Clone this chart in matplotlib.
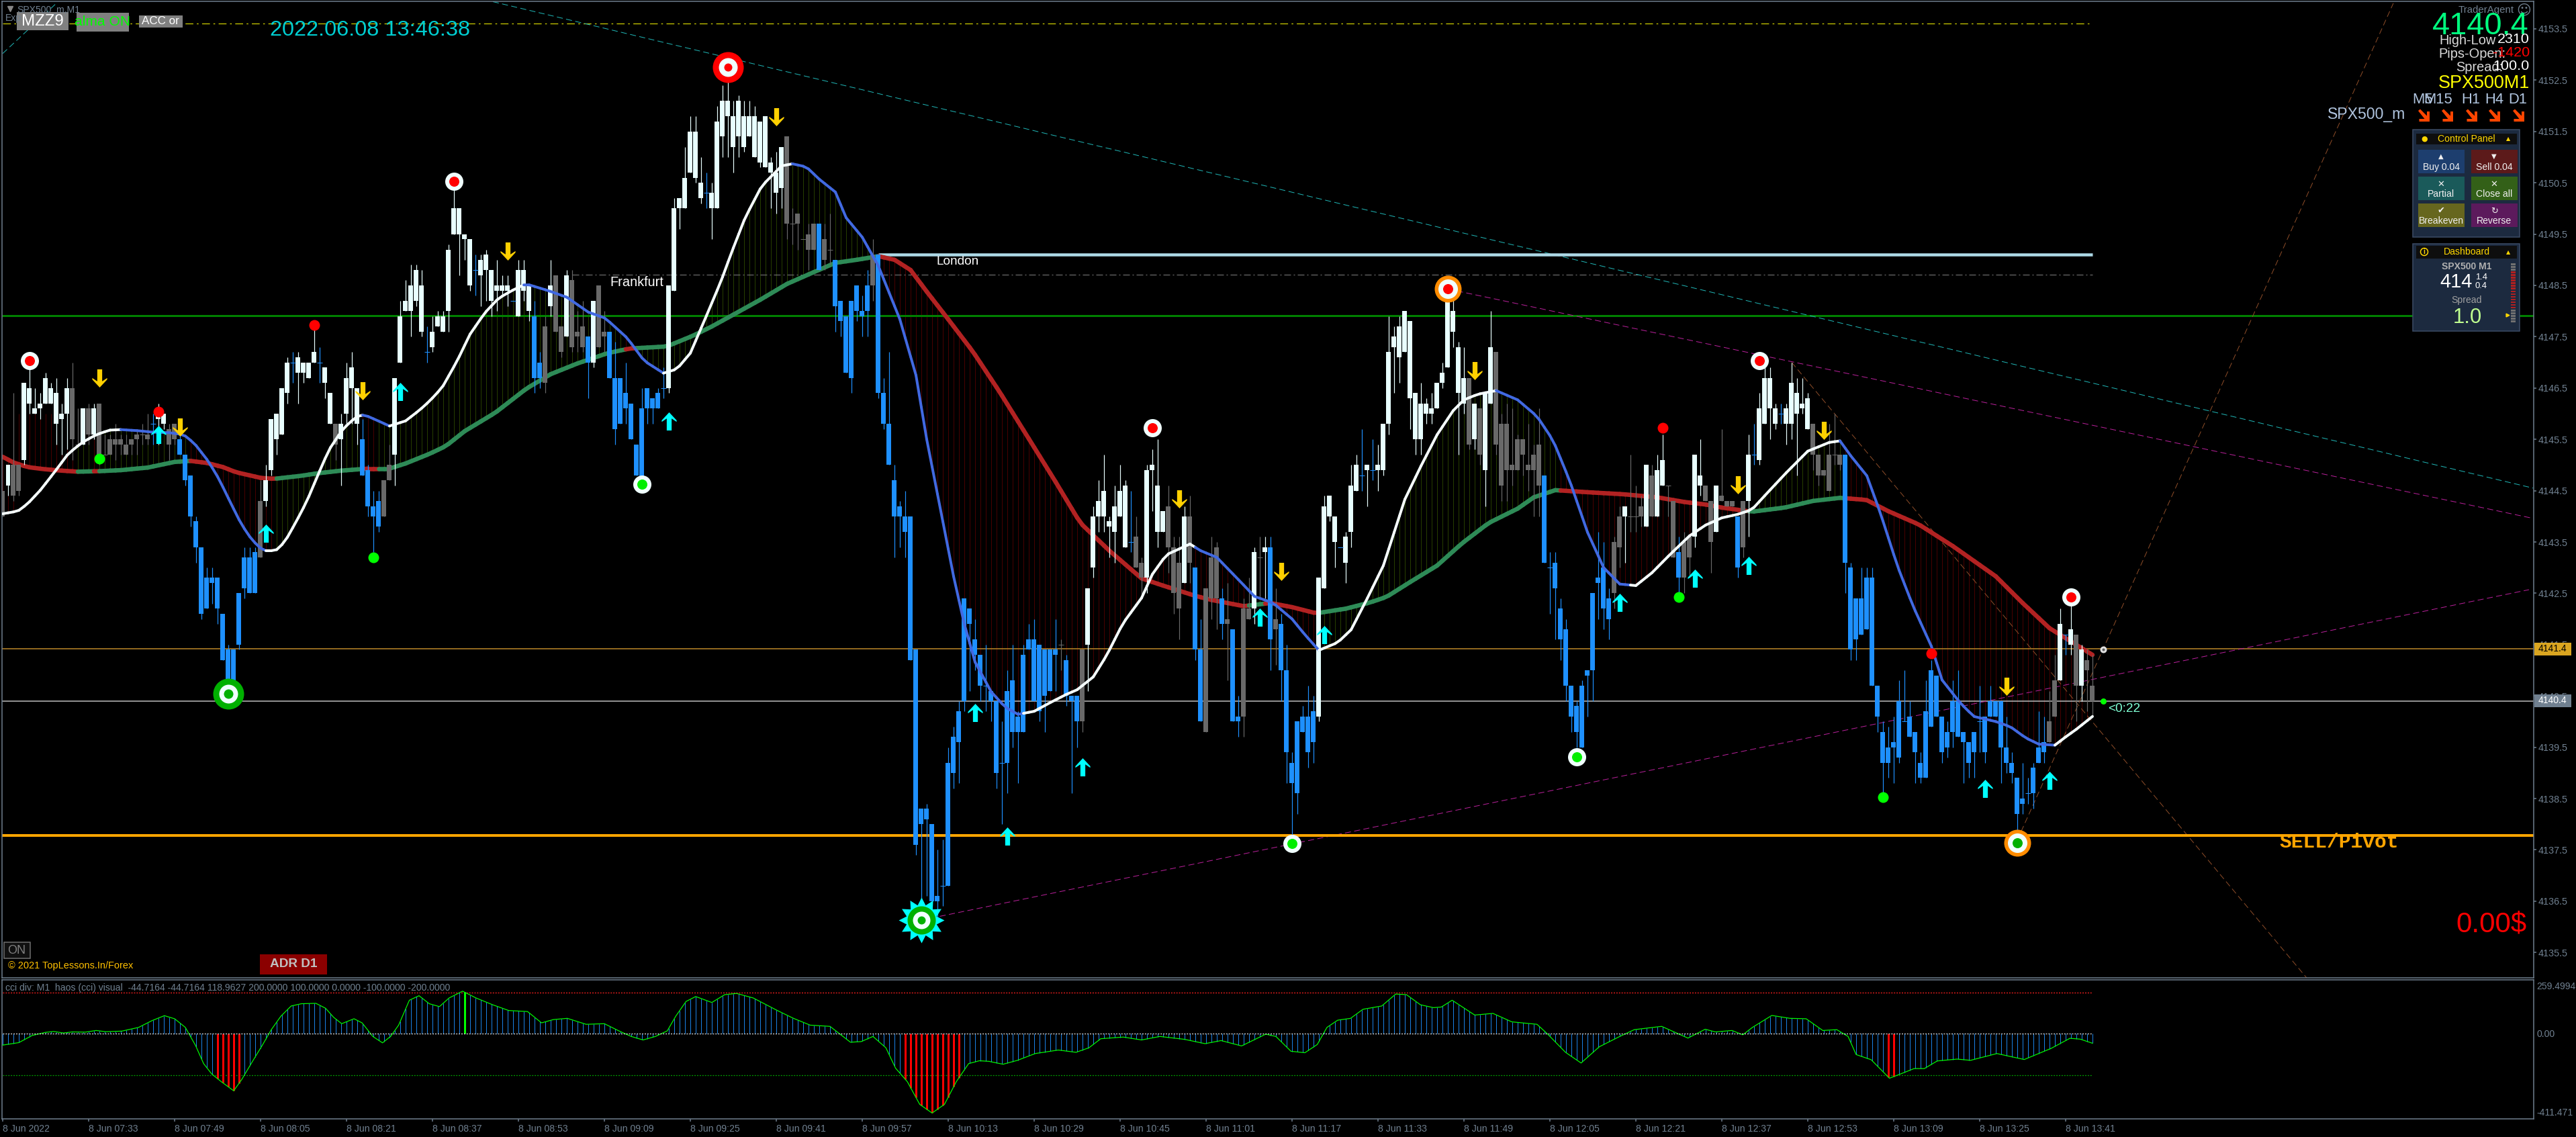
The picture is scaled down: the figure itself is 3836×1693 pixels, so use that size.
import numpy as np
import matplotlib
matplotlib.use("Agg")
import matplotlib.pyplot as plt
from matplotlib.collections import LineCollection
from matplotlib.patches import Rectangle, Circle
from matplotlib.path import Path

plt.rcParams['font.family'] = ['Liberation Sans', 'DejaVu Sans']

base = 4100

# candle bodies and wicks, prices minus base, one value per M1 bar from 07:17
body_top = [
    44.5,45.0,45.0,45.0,46.6,46.5,46.1,46.2,46.7,46.5,
    46.4,46.0,46.5,46.5,45.4,46.1,46.1,46.1,46.2,45.2,
    45.5,45.5,45.5,45.4,45.5,45.6,45.6,45.6,45.8,46.0,
    46.0,45.7,45.8,45.5,45.2,44.8,43.9,43.4,42.8,42.8,
    42.8,42.1,41.4,41.4,42.5,43.2,43.2,43.3,44.3,44.7,
    45.9,46.0,46.5,47.0,47.0,47.1,47.0,47.0,47.2,47.0,
    46.9,46.4,45.8,45.8,46.7,46.9,46.5,45.5,44.9,44.2,
    44.3,44.7,45.0,46.7,47.9,48.2,48.5,48.8,48.5,47.2,
    47.6,47.9,47.9,49.2,50.0,50.0,49.5,49.4,48.8,49.0,
    49.1,48.8,48.5,48.5,48.5,48.2,48.8,48.8,48.5,47.9,
    47.0,47.7,48.5,48.7,47.7,48.7,48.6,47.6,47.7,47.5,
    48.2,48.5,47.6,47.6,46.7,46.7,46.4,46.2,45.4,46.1,
    46.5,46.3,46.4,46.5,48.5,50.0,50.2,50.6,51.5,51.5,
    50.5,50.3,50.3,51.7,52.1,52.1,51.8,52.1,51.8,51.8,
    51.8,51.7,51.8,50.9,50.7,51.2,51.4,49.7,49.9,49.4,
    49.5,49.7,49.7,49.4,49.2,49.0,48.2,47.9,48.2,48.5,
    48.0,48.5,49.1,49.1,46.4,45.8,44.7,44.2,44.0,44.0,
    41.4,38.3,38.3,38.0,36.6,36.8,39.2,39.7,40.2,42.4,
    42.2,41.6,41.3,40.7,40.6,40.4,39.2,40.6,40.8,40.1,
    41.3,41.6,41.6,41.5,41.4,41.4,41.4,41.5,41.2,40.5,
    40.5,41.4,42.6,44.0,44.3,44.5,43.9,44.2,44.5,44.6,
    43.5,43.6,43.1,44.9,45.0,44.6,44.1,44.2,43.4,43.1,
    44.0,44.0,43.0,41.4,42.6,43.2,43.4,42.4,42.0,41.8,
    40.1,42.2,42.2,43.3,43.2,43.4,43.4,42.0,41.9,41.0,
    39.2,40.0,40.1,40.1,40.2,42.8,44.2,44.4,44.0,43.4,
    43.6,44.6,45.0,44.8,45.0,44.9,45.0,45.8,47.2,47.5,
    47.7,48.0,47.8,46.4,46.2,46.2,46.1,46.6,46.8,48.3,
    48.0,47.3,46.7,46.7,46.2,46.1,46.4,47.3,47.2,45.8,
    45.8,45.0,45.5,45.5,45.0,45.2,45.4,44.8,43.0,43.1,
    42.2,41.8,40.7,40.3,40.7,41.0,42.5,42.8,43.0,42.4,
    43.5,44.0,44.2,44.0,44.0,44.2,45.0,44.8,44.9,45.1,
    44.6,44.3,43.3,43.5,43.6,45.2,44.8,44.6,44.3,44.6,
    44.4,44.3,44.3,44.0,44.3,45.2,45.2,46.1,46.7,46.7,
    46.1,46.0,46.1,46.6,46.4,46.2,46.3,45.8,45.2,44.9,
    45.2,45.2,45.2,45.2,43.0,42.4,42.4,42.8,42.8,40.7,
    39.8,39.5,39.6,40.4,40.0,40.1,39.8,39.2,40.2,41.0,
    40.9,40.1,39.8,40.4,40.4,39.8,39.6,39.8,40.0,40.1,
    40.4,40.4,40.4,39.5,39.2,38.9,38.5,38.6,39.1,39.5,
    39.6,40.0,40.8,41.9,41.7,41.8,41.7,41.4,41.2,40.7]

body_bot = [
    44.0,44.6,44.4,44.5,45.1,46.2,46.0,46.1,46.2,46.2,
    45.8,45.9,46.0,45.5,45.4,45.4,45.6,45.6,45.1,45.2,
    45.2,45.4,45.4,45.2,45.4,45.5,45.6,45.5,45.8,45.9,
    45.8,45.4,45.5,45.2,44.7,44.0,43.4,42.1,42.2,42.7,
    42.2,41.2,40.8,40.6,41.5,42.6,42.5,42.5,43.2,44.3,
    44.9,45.5,45.6,46.4,47.0,46.8,46.8,46.7,47.0,47.0,
    46.6,45.8,45.4,45.5,46.0,46.5,45.8,44.8,44.2,44.0,
    43.8,44.0,44.7,45.2,47.0,48.0,48.0,48.2,47.6,47.2,
    47.3,47.7,47.6,48.0,49.5,49.5,49.4,48.5,48.8,48.7,
    48.8,48.2,48.4,48.4,48.4,48.2,47.9,48.4,48.0,46.7,
    46.7,46.6,48.1,47.6,47.2,47.5,47.3,47.5,47.3,47.0,
    47.0,47.3,47.5,46.7,45.7,45.8,46.1,45.5,44.8,44.7,
    46.1,46.1,46.1,46.5,46.5,48.4,50.0,50.0,50.7,50.6,
    50.2,50.3,50.0,50.0,51.4,51.8,51.2,51.4,51.2,51.4,
    51.0,50.9,50.8,50.7,50.3,50.4,49.7,49.7,49.7,49.4,
    49.2,49.2,48.8,49.0,49.2,48.1,47.8,46.8,46.7,48.0,
    47.9,48.0,48.5,46.4,45.8,45.0,44.0,44.0,43.7,41.2,
    37.6,38.0,38.1,36.5,36.5,36.8,36.8,39.0,39.6,40.4,
    41.9,41.3,40.7,40.7,40.4,39.0,39.2,39.2,39.8,39.8,
    39.8,41.4,40.4,40.2,40.5,40.6,41.3,41.5,40.5,40.4,
    40.0,40.0,41.5,43.0,44.0,44.0,43.8,43.7,44.0,43.4,
    43.5,43.0,42.8,42.8,44.9,43.7,43.7,43.4,42.5,42.2,
    42.7,43.1,41.4,40.0,39.8,42.4,42.4,41.9,41.9,40.0,
    40.0,40.1,42.0,42.2,43.2,43.3,41.6,41.8,41.0,39.4,
    38.8,38.6,39.8,39.4,39.6,40.1,42.6,44.0,43.5,43.4,
    43.1,43.7,44.5,44.8,44.9,44.9,44.9,44.9,45.8,47.3,
    47.1,47.2,46.3,45.5,45.5,46.0,46.0,46.1,46.6,46.9,
    47.6,46.4,46.2,45.4,45.5,45.2,44.9,46.2,45.4,44.6,
    44.9,44.9,44.9,45.2,44.9,44.9,44.6,43.1,43.0,42.6,
    41.6,40.7,40.1,39.8,39.5,40.9,41.0,42.7,42.2,42.0,
    42.5,43.4,44.0,44.0,44.0,44.0,43.8,44.0,44.0,44.6,
    44.6,43.2,42.8,42.8,43.2,43.6,44.6,44.3,43.5,43.7,
    44.3,44.2,44.2,43.0,43.4,44.3,45.2,45.1,45.8,46.1,
    45.8,46.0,45.8,45.8,46.0,46.1,45.7,45.2,44.8,44.8,
    44.5,45.2,45.0,43.1,41.4,41.6,41.7,41.8,40.7,40.1,
    39.2,39.2,39.5,39.3,40.0,39.7,39.4,38.9,38.9,39.9,
    40.1,39.4,39.5,39.8,39.7,39.6,39.2,39.4,40.0,39.4,
    40.1,40.1,39.5,39.2,39.0,38.2,38.4,38.6,38.6,39.2,
    39.4,39.6,40.1,40.8,41.7,41.5,40.7,40.7,41.0,40.4]

wick_hi = [
    44.5,45.0,46.4,45.0,46.6,46.9,46.5,46.4,46.8,46.6,
    46.7,46.2,46.7,47.0,46.1,46.1,46.2,46.2,46.2,45.6,
    45.6,45.8,45.6,45.6,45.5,45.7,45.8,46.0,46.0,46.2,
    46.0,45.8,45.8,45.8,45.2,44.8,44.0,43.4,43.0,43.0,
    42.8,42.1,41.5,41.4,42.5,43.4,43.4,43.4,44.7,45.0,
    45.9,46.0,46.5,47.1,47.2,47.2,47.0,47.0,47.7,47.3,
    46.9,46.4,45.8,46.0,47.0,47.2,46.5,45.9,45.0,44.5,
    44.5,44.7,45.4,46.7,48.2,48.6,48.9,48.9,48.8,47.7,
    47.9,48.0,48.0,49.3,50.4,50.0,49.5,49.4,49.1,49.1,
    49.2,48.8,49.0,48.7,48.7,48.2,49.0,49.0,48.5,48.2,
    47.2,47.9,49.0,48.7,47.7,48.8,48.8,48.0,48.2,47.5,
    48.2,48.5,48.0,47.6,47.4,46.7,47.0,46.2,45.4,46.5,
    46.5,46.3,46.5,46.9,48.5,50.2,50.2,51.2,51.8,51.8,
    51.0,50.7,50.5,52.0,52.4,52.9,52.1,52.2,52.1,52.1,
    52.0,51.7,51.8,51.0,51.1,51.2,51.4,50.0,49.9,49.4,
    49.7,49.7,49.7,49.7,49.9,49.0,48.2,47.9,48.2,48.5,
    48.3,48.8,49.4,49.1,46.7,47.2,45.0,44.3,44.5,44.0,
    41.4,38.3,38.4,38.0,37.5,37.7,39.5,39.9,40.4,42.4,
    42.2,42.0,41.3,41.5,40.6,40.4,40.0,41.0,41.5,40.2,
    41.5,41.9,42.0,41.5,41.4,41.4,42.0,41.6,41.3,40.5,
    40.5,41.4,42.6,44.2,44.7,45.2,44.0,44.6,45.0,44.7,
    44.5,44.0,43.2,45.0,45.3,45.5,44.1,44.6,43.6,43.6,
    44.2,44.4,43.0,42.0,42.6,43.6,43.5,42.6,42.7,41.8,
    40.5,42.4,42.8,43.4,43.6,43.6,43.6,42.6,42.1,41.5,
    39.4,40.0,40.3,40.7,40.5,42.8,44.4,44.4,44.0,43.4,
    43.7,45.0,45.2,45.7,45.0,45.5,45.4,45.8,47.9,47.7,
    47.9,48.0,47.8,46.4,46.6,46.3,46.4,46.6,47.0,48.4,
    48.4,47.4,47.3,46.7,46.2,46.1,46.4,48.0,47.2,46.0,
    46.2,46.1,45.6,45.5,45.8,45.4,46.1,44.8,43.3,43.3,
    42.4,42.0,40.7,40.4,40.8,41.0,42.5,43.7,43.5,42.6,
    43.6,44.2,44.2,45.2,44.6,44.4,45.0,45.0,45.2,45.6,
    44.6,44.3,43.6,43.7,43.6,45.2,45.5,44.6,44.3,44.6,
    45.7,44.3,44.3,44.0,44.3,45.6,45.8,46.4,46.9,46.9,
    46.2,46.2,46.2,47.0,46.7,46.7,46.4,45.8,45.2,44.9,
    45.8,46.0,45.2,45.2,43.1,42.4,43.0,43.0,43.0,40.7,
    40.0,39.9,40.1,40.8,41.0,40.4,39.8,39.4,40.8,41.2,
    40.9,40.1,40.0,40.8,41.0,39.8,39.6,39.8,40.7,40.1,
    40.7,40.4,40.4,40.1,39.4,38.9,39.2,38.9,39.2,40.2,
    40.1,40.6,41.3,42.2,41.7,42.4,41.7,41.5,41.4,41.3]

wick_lo = [
    44.0,44.4,44.3,44.4,45.0,46.0,46.0,45.9,46.2,46.2,
    45.4,45.2,45.3,45.1,45.4,45.4,45.4,45.5,45.0,45.2,
    45.2,45.1,45.2,45.2,45.2,45.2,45.4,45.4,45.4,45.4,
    45.7,45.1,45.4,45.2,44.6,43.8,43.1,42.0,42.2,42.3,
    41.9,41.2,40.8,40.6,41.4,42.4,42.5,42.5,43.2,44.2,
    44.8,45.2,45.6,46.2,46.6,46.2,46.6,46.7,47.0,46.6,
    46.3,45.8,45.1,44.6,45.8,45.8,45.4,44.8,44.0,43.3,
    43.7,44.0,44.7,44.6,47.0,48.0,47.5,48.1,47.5,47.0,
    47.2,47.7,47.6,47.6,49.5,48.7,49.0,48.4,48.3,48.1,
    48.2,47.9,48.0,48.3,48.1,48.2,47.9,48.2,47.8,46.4,
    46.5,46.4,47.9,47.6,47.1,47.5,47.2,47.2,47.2,46.3,
    46.9,47.3,47.2,46.7,45.4,45.8,45.8,45.5,44.8,44.6,
    45.8,45.8,46.1,46.3,46.4,48.4,49.6,50.0,50.7,50.5,
    50.1,50.0,49.4,50.0,51.0,51.0,50.7,51.0,51.1,51.4,
    51.0,50.8,50.8,50.0,49.9,50.0,49.4,49.3,49.2,49.4,
    48.8,49.2,48.8,48.8,48.9,47.6,47.5,46.8,46.4,47.8,
    47.5,47.5,48.2,46.3,45.7,45.0,43.2,43.4,43.2,41.2,
    37.4,36.1,36.6,36.2,36.2,36.4,36.8,38.7,38.8,40.2,
    40.6,41.0,40.4,40.2,40.0,38.7,38.0,38.6,39.5,38.8,
    39.8,41.4,40.4,40.0,39.8,40.6,40.6,41.0,40.3,38.6,
    39.5,39.8,40.6,42.8,43.7,43.7,43.2,43.1,44.0,43.4,
    43.3,43.0,42.4,42.5,44.1,43.4,43.7,42.9,42.1,41.6,
    42.7,42.7,41.2,40.0,39.8,42.0,41.8,41.6,40.8,40.0,
    39.7,39.7,42.0,41.9,42.4,42.4,41.0,41.1,40.4,38.8,
    37.7,38.2,39.8,39.1,39.2,40.0,42.6,43.9,43.0,43.4,
    42.7,43.4,44.5,44.5,44.2,44.7,44.5,44.8,45.6,46.4,
    46.6,47.2,45.7,45.2,45.2,45.8,45.8,46.1,46.5,46.9,
    47.3,45.2,46.0,45.3,45.3,45.0,44.2,46.2,45.2,44.3,
    44.3,44.6,44.9,44.8,44.5,44.0,44.0,43.1,42.1,41.6,
    41.2,40.4,39.8,39.5,39.5,40.1,40.4,42.0,41.8,41.6,
    42.2,43.0,43.1,43.7,43.7,43.8,43.8,44.0,44.0,44.6,
    44.0,43.2,42.5,42.5,42.8,43.4,44.4,44.3,42.9,43.7,
    44.3,44.2,44.2,42.8,43.2,43.6,45.0,45.0,45.8,45.5,
    45.7,45.8,45.4,45.5,44.8,46.0,45.7,44.9,44.6,44.8,
    44.5,45.0,44.9,42.5,41.2,41.2,41.7,41.8,40.7,39.8,
    38.6,38.9,38.8,39.2,40.0,39.7,38.8,38.8,38.9,39.9,
    40.1,39.2,39.3,39.5,39.7,38.8,38.9,38.9,39.4,39.2,
    40.1,40.1,38.8,39.0,38.8,37.8,38.2,38.4,38.3,39.2,
    39.2,39.6,40.1,40.8,41.3,41.3,40.0,40.4,40.2,40.1]

# W white, B blue, G gray
kinds = ("GWGGWWWWWW" "WWWGGWGWGG" "GGGGGGGGBW" "WGGBBBBBBB" "BBBBBBBBGW"
         "WWWWBWWWWB" "WWGWWWWBBB" "BGGWWWWWWB" "WWWWWWWWBW" "WWWWWBWWWB"
         "BGWGGWGGGB" "WGGBBBBBBB" "BBBBWWWWWW" "WBWWWWWWWW" "WWWWWWGGGG"
         "GGBGGBBBBB" "BBGBBBBBBB" "BBBBBBBBBB" "BBBBBBBBBB" "BBBBBBBGBB"
         "BGWWWWWWWW" "BGGWWWWGGG" "WGBBGGGBGB" "BGGWGWBGBB" "BBBBBWWWWB"
         "WWWBWBWWWW" "WWWWWWWWWW" "WWWGWGWWGG" "GGGGGGGBBB" "BBBBBBBBBB"
         "GGWGGGWGWW" "GGBGGWWGGW" "GGGBGWBWWW" "WBWWWWWGGG" "GGGBBBBBBB"
         "BBBBBBBBBB" "BBBBBBBBBB" "BBBBBBBBBB" "BGGWBWGWGG")

# slow moving average (bar position, price)
slow_x = [0,2,4.6,7.6,11,14,18,22,27,32,35,38,41,43.4,48,50.5,55.6,58.7,63,68,72,75,
          79.5,82.5,86,91.7,97.5,102,107,112.6,116.7,123.6,128.5,132,136,141,146,151,155,159,
          163,166,169,172,176,180.6,185.6,190.6,196,200.6,206,212,216,222,225,231,236,240,
          244.5,250,254.5,257.6,262,267,271.6,276.6,282,285,289,293.5,296.6,301.7,308,313,317,
          320,325.6,331.7,337,342,346.9,351,356.7,363,371,376,381,385,389]
slow_y = [45.16,45.05,44.96,44.92,44.89,44.87,44.88,44.90,44.95,45.06,45.08,45.04,44.96,44.86,44.75,44.73,44.79,44.84,44.89,44.93,44.93,45.03,
          45.22,45.37,45.66,46.02,46.49,46.77,46.98,47.18,47.27,47.31,47.52,47.70,47.93,48.22,48.53,48.76,48.94,49.0,
          49.07,49.0,48.8,48.38,47.84,47.21,46.42,45.58,44.67,43.87,43.33,42.79,42.65,42.45,42.37,42.25,42.31,42.23,
          42.11,42.2,42.32,42.43,42.72,43.04,43.47,43.87,44.15,44.37,44.51,44.48,44.46,44.43,44.37,44.28,44.23,
          44.17,44.09,44.17,44.3,44.36,44.32,44.10,43.84,43.42,42.83,42.31,41.82,41.56,41.30]
slow_green_spans = [(14,17),(18,35),(51,67),(70,116),(118,163),(232,235),(245,290),(325,343)]

# fast moving average
fast_x = [0,2.8,4.6,7.1,9.7,12.2,14.8,17.4,19.9,22,25,28,31,33.7,35.7,38.3,40.3,42.3,44.4,46.4,48.5,50.8,
          52.5,54.6,56.6,58.7,60.7,63.3,65.8,67.3,69.9,72,75,77.6,79.5,81.8,84.6,87,89.7,92.3,94.8,97.4,
          101.5,105,109,112.2,116.3,119.4,123,125.5,128,131,133.7,135.7,138.2,141.3,145,147,149.6,152,155,157,160,
          163,167,170,172,175,177,179,181,184,186.6,189,192,195,198,200,203,205.5,208.5,212,214,216.6,221,223,226,231,233,236.5,240,
          242.5,245,248.5,251,254,257,261,264,267,270,272,274.6,278,282,285.6,288.6,291.7,295,298,301,304,307,310.4,314,317,320,
          323,325.6,328.5,332,336,340,342,344,347,349.5,352.7,355.6,359,361,364.4,366.9,371,373.7,376.6,379,382,384,386,389]
fast_y = [44.05,44.1,44.24,44.52,44.87,45.22,45.44,45.59,45.68,45.69,45.67,45.64,45.63,45.59,45.42,45.07,44.72,44.29,43.85,43.54,43.33,43.33,
          43.5,43.89,44.29,44.81,45.29,45.7,45.94,45.98,45.86,45.76,45.86,46.07,46.25,46.51,47.03,47.55,47.96,48.25,48.4,48.53,
          48.4,48.27,47.98,47.86,47.47,47.03,46.79,46.87,47.18,47.91,48.58,49.15,49.82,50.44,50.83,50.87,50.81,50.57,50.32,49.82,49.44,
          48.88,47.84,46.75,45.5,43.9,42.83,41.9,41.16,40.58,40.28,40.14,40.2,40.37,40.53,40.62,40.87,41.29,41.91,42.41,42.87,43.25,43.46,43.33,43.2,42.66,42.44,42.31,42.0,
          41.68,41.39,41.54,41.79,42.4,43.04,44.33,44.98,45.59,46.06,46.27,46.38,46.45,46.27,45.95,45.48,44.69,43.69,43.0,42.68,42.65,42.9,43.26,43.62,43.83,43.97,
          44.04,44.13,44.46,44.85,45.27,45.44,45.47,45.18,44.79,44.07,43.03,42.25,41.47,40.81,40.36,40.1,40.0,39.9,39.68,39.56,39.54,39.7,39.85,40.1]
fast_blue_spans = [(22,49),(67,72),(97,123),(147,190),(222,245),(278,303),(342,382)]

# signal marks, (bar, price minus base)
red_dots = [(58,47.73),(29,46.04),(309,45.72),(359,41.33)]
green_dots = [(18,45.12),(69,43.2),(350,38.53),(312,42.43)]
red_rings = [(84,50.53),(5,47.03),(214,45.72),(327,47.03),(385,42.43)]
green_rings = [(119,44.63),(240,37.62),(293,39.31)]
down_arrows = [(18,46.7),(33,45.74),(67,46.45),(94,49.17),(144,51.79),(219,44.34),(238,42.92),
               (274,46.84),(323,44.61),(339,45.67),(373,40.68)]
up_arrows = [(29,45.59),(49,43.67),(74,46.43),(124,45.86),(181,40.18),(187,37.77),(201,39.11),
             (234,42.03),(246,41.69),(301,42.32),(315,42.79),(325,43.04),(369,38.7),(381,38.85)]

# levels and trend lines
green_level = 47.91
bid_level = 41.42
ask_level = 40.4
pivot_level = 37.78
london_level = 49.1
frankfurt_level = 48.71
top_level = 53.6
cyan_lines = [((91.25,54.03),(471,44.55)),((0,53.02),(10,54.0))]
magenta_lines = [((269,48.43),(471,43.96)),((171,36.13),(470.25,42.57))]
brown_lines = [((333,47.0),(428.9,35.0)),((375,37.69),(445,54.0))]

# oscillator line
cci_x = [0,3,5.5,8,9.5,11.3,13,15.4,17.4,19.2,22.2,25.3,27.8,30.1,32,34,35.9,37.4,38.9,40.7,43,44.5,46.5,48.3,50,51.8,53.7,55.6,58.3,60.1,61.6,63.1,65.4,66.9,68.9,70.7,72.2,73.7,75.7,77.5,79.4,81.3,83.1,85.6,88.1,91.2,94.2,97.7,100.3,102.5,105.1,108.6,112,114.7,117,119.2,121.5,123.7,125.3,127.2,129,132,134.4,136.6,139.7,144.2,147.2,150.3,154,157.8,159.8,162,164.4,166.2,168.4,170.7,173,175.3,177.5,179.8,181.8,183.6,186.2,188.9,192.2,196.5,199.8,202.2,204.4,208.6,212,215.4,220,223.8,226.8,230.6,235.1,
         237,239.8,242.4,244.7,246.5,248.5,250.9,253.2,256.7,259.3,261.3,263.9,266.3,267.8,269.8,274,277.4,280.9,285.6,287.6,290.9,293.8,297.2,301,303.7,308.8,313.7,316.9,318.8,321.9,323.9,325.7,329.3,332.7,335.7,338.8,341.4,343.5,345,347.8,351.2,352.8,355.8,357.7,360.1,363.8,366.3,371.2,376.3,381.3,384.8,386.7,389]
cci_y = [-55,-43,-8,7,11,4,9,8,16,10,13,31,64,88,73,31,-57,-145,-195,-233,-277,-222,-134,-57,20,86,135,146,148,124,80,49,73,53,-13,-44,-13,42,163,185,146,132,174,207,174,141,113,108,53,69,75,46,49,14,-13,-30,-13,14,86,157,181,152,190,196,174,113,75,42,36,-41,-38,-13,-68,-167,-233,-343,-385,-343,-233,-145,-131,-134,-148,-129,-96,-79,-90,-68,-24,-16,-30,-13,-27,-48,-33,-59,-2,
         -13,-85,-92,-52,31,66,75,119,135,193,190,141,127,130,163,91,99,58,46,-2,-90,-142,-63,-13,20,36,-21,22,9,16,-5,31,89,75,73,16,20,-13,-101,-126,-216,-200,-169,-169,-132,-123,-129,-96,-125,-71,-22,-26,-46]

price_ticks = [4135.5 + k for k in range(19)]
time_labels = ['8 Jun 2022','8 Jun 07:33','8 Jun 07:49','8 Jun 08:05','8 Jun 08:21','8 Jun 08:37','8 Jun 08:53',
               '8 Jun 09:09','8 Jun 09:25','8 Jun 09:41','8 Jun 09:57','8 Jun 10:13','8 Jun 10:29','8 Jun 10:45',
               '8 Jun 11:01','8 Jun 11:17','8 Jun 11:33','8 Jun 11:49','8 Jun 12:05','8 Jun 12:21','8 Jun 12:37',
               '8 Jun 12:53','8 Jun 13:09','8 Jun 13:25','8 Jun 13:41']

W, H = 3836, 1693
AXIS = '#708090'
PX = 0.72  # one pixel in points at dpi 100

fig = plt.figure(figsize=(W/100, H/100), dpi=100, facecolor='black')

def axes_px(x0, y0, x1, y1):
    return fig.add_axes([x0/W, 1-y1/H, (x1-x0)/W, (y1-y0)/H], facecolor='black')

ax = axes_px(3, 2, 3773, 1456)
ax2 = axes_px(3, 1459, 3773, 1666)
xlim = (-0.125, 471.125)

bars = np.arange(len(body_top))
top = np.array(body_top) + base
bot = np.array(body_bot) + base
hi = np.array(wick_hi) + base
lo = np.array(wick_lo) + base
cols = {'W':'#e8ffff', 'B':'#1e90ff', 'G':'#696969'}
bar_cols = [cols[k] for k in kinds]

slow = np.interp(bars, slow_x, np.array(slow_y)+base)
fast = np.interp(bars, fast_x, np.array(fast_y)+base)

def in_spans(i, spans):
    return any(a <= i < b for a, b in spans)

slow_state = [in_spans(i, slow_green_spans) for i in bars]

# thin histogram between the averages
hist_from = fast.copy()
hist_from[3:13] = 4146.0
hist_cols = ['#263d00' if g else '#470000' for g in slow_state]
ax.vlines(bars, slow, hist_from, colors=hist_cols, linewidth=PX, zorder=1)

ax.hlines(green_level+base, *xlim, color='#008000', linewidth=3*PX, zorder=1)
ax.hlines(bid_level+base, *xlim, color='#c08a2a', linewidth=1.5*PX, zorder=1)
ax.hlines(ask_level+base, *xlim, color='#c0c0c0', linewidth=1.5*PX, zorder=1)
ax.hlines(pivot_level+base, *xlim, color='#ffa500', linewidth=4*PX, zorder=2)
ax.hlines(london_level+base, 163, 389, color='#add8e6', linewidth=4.5*PX, zorder=2)
ax.plot([106,389], [frankfurt_level+base]*2, color='#808080', linewidth=PX, dashes=(10,4,2,4), zorder=1)
ax.plot([0,389], [top_level+base]*2, color='#c8c800', linewidth=1.3*PX, dashes=(9,4,2,4), zorder=1)

for lines, c in ((cyan_lines,'#1fb4b4'), (magenta_lines,'#b8209a'), (brown_lines,'#8c4c28')):
    for a, b in lines:
        ax.plot([a[0],b[0]], [a[1]+base,b[1]+base], color=c, linewidth=PX, dashes=(9,5), zorder=1.5)

def colored_line(a, xs, ys, colors, lw, z):
    segs = [[(xs[i],ys[i]),(xs[i+1],ys[i+1])] for i in range(len(xs)-1)]
    a.add_collection(LineCollection(segs, colors=colors[:-1], linewidths=lw, capstyle='round', zorder=z))

colored_line(ax, bars, slow, ['#2e8b57' if g else '#b22222' for g in slow_state], 6.5*PX, 2.5)

ax.vlines(bars, lo, hi, colors=bar_cols, linewidth=1.2*PX, zorder=3)
solid = top > bot
ax.bar(bars[solid], (top-bot)[solid], bottom=bot[solid], width=7/8,
       color=[c for c, s in zip(bar_cols, solid) if s], linewidth=0, antialiased=False, zorder=3.2)
ax.hlines(top[~solid], bars[~solid]-0.44, bars[~solid]+0.44,
          colors=[c for c, s in zip(bar_cols, solid) if not s], linewidth=PX, zorder=3.2)

colored_line(ax, bars, fast, ['#4169e1' if in_spans(i, fast_blue_spans) else '#f5ffff' for i in bars], 4*PX, 4)

def marks(points, marker, ms, color, z=5):
    xs = [p[0] for p in points]
    ys = [p[1]+base for p in points]
    ax.plot(xs, ys, linestyle='none', marker=marker, markersize=ms*PX, color=color,
            markeredgewidth=0, zorder=z)

up_verts = [(0,1),(0.82,0.12),(0.82,-0.05),(0.27,0.32),(0.27,-1),(-0.27,-1),(-0.27,0.32),(-0.82,-0.05),(-0.82,0.12),(0,1)]
up_path = Path(up_verts, closed=True)
down_path = Path([(x,-y) for x, y in up_verts], closed=True)
marks(up_arrows, up_path, 27, '#00ffff')
marks(down_arrows, down_path, 27, '#ffd000')

marks(red_dots, 'o', 16, '#ff0000')
marks(green_dots, 'o', 16, '#00ff00')
marks(red_rings, 'o', 27, '#f0ffff')
marks(red_rings, 'o', 15, '#ff0000', 5.1)
marks(green_rings, 'o', 27, '#f0ffff')
marks(green_rings, 'o', 15, '#00ee00', 5.1)

# the larger targets
marks([(135,52.75)], 'o', 46, '#ff0000')
marks([(135,52.75)], 'o', 28, '#f0ffff', 5.1)
marks([(135,52.75)], 'o', 12, '#ff0000', 5.2)
marks([(269,48.43)], 'o', 40, '#ff8c00')
marks([(269,48.43)], 'o', 29, '#f0ffff', 5.1)
marks([(269,48.43)], 'o', 15, '#ff0000', 5.2)
marks([(42,40.54)], 'o', 46, '#00b000')
marks([(42,40.54)], 'o', 28, '#f0ffff', 5.1)
marks([(42,40.54)], 'o', 14, '#00b000', 5.2)
marks([(375,37.63)], 'o', 40, '#ff8c00')
marks([(375,37.63)], 'o', 29, '#f0ffff', 5.1)
marks([(375,37.63)], 'o', 15, '#00b000', 5.2)
star = Path.unit_regular_star(12, innerCircle=0.68)
marks([(171,36.13)], star, 68, '#00ffff')
marks([(171,36.13)], 'o', 42, '#00b000', 5.1)
marks([(171,36.13)], 'o', 26, '#f0ffff', 5.2)
marks([(171,36.13)], 'o', 12, '#00b000', 5.3)
marks([(391,41.4)], 'o', 10, '#e0e0e0')
marks([(391,41.4)], 'o', 4, '#606060', 5.1)
marks([(391,40.4)], 'o', 9, '#00ff00')

ax.set_xlim(*xlim)
ax.set_ylim(4153.5-1413/76.4, 4153.5+41/76.4)
ax.yaxis.tick_right()
ax.set_yticks(price_ticks)
ax.set_yticklabels(['%.1f' % p for p in price_ticks])
ax.tick_params(axis='y', colors=AXIS, labelsize=10.4, length=3, width=PX*1.5, pad=2)
ax.set_xticks([])
for s in ax.spines.values():
    s.set_color(AXIS)
    s.set_linewidth(1.5*PX)

# oscillator pane
cci = np.interp(bars, cci_x, cci_y)
cci_cols = ['#ff0000' if v < -200 else '#00ff00' if v > 200 else '#1e90ff' for v in cci]
cci_lw = [3*PX if (v < -200 or v > 200) else 0.9*PX for v in cci]
ax2.vlines(bars, 0, cci, colors=cci_cols, linewidths=cci_lw, zorder=2)
ax2.plot(cci_x, cci_y, color='#00ff00', linewidth=1.2*PX, zorder=3)
ax2.plot([0,389], [200,200], color='#ff2020', linewidth=1.3*PX, linestyle=(0,(1.5,1.5)), zorder=1)
ax2.plot([0,389], [-200,-200], color='#00a000', linewidth=1.3*PX, linestyle=(0,(1.5,1.5)), zorder=1)
ax2.plot([0,389], [0,0], color='#e0e0e0', linewidth=1.3*PX, linestyle=(0,(1.5,1.5)), zorder=4)
ax2.set_xlim(*xlim)
ax2.set_ylim(-413.4, 262)
ax2.set_yticks([])
ax2.set_xticks(np.arange(len(time_labels))*16)
ax2.set_xticklabels(time_labels, ha='left')
ax2.tick_params(axis='x', colors=AXIS, labelsize=10.2, length=3, width=PX*1.5, pad=3)
for s in ax2.spines.values():
    s.set_color(AXIS)
    s.set_linewidth(1.5*PX)

# overlay in pixel coordinates for the on-chart panels and labels
ov = fig.add_axes([0, 0, 1, 1], zorder=10)
ov.set_xlim(0, W)
ov.set_ylim(H, 0)
ov.axis('off')

def txt(x, y, s, px, color, ha='left', weight='normal', family=None, z=12):
    kw = {'family': family} if family else {}
    ov.text(x, y, s, fontsize=px*PX, color=color, ha=ha, va='center', fontweight=weight, zorder=z, **kw)

def box(x0, y0, x1, y1, face, edge='none', lw=1, z=11):
    ov.add_patch(Rectangle((x0,y0), x1-x0, y1-y0, facecolor=face, edgecolor=edge, linewidth=lw*PX, zorder=z))

# top left
txt(25, 14, 'SPX500_m,M1', 14, AXIS)
txt(8, 27, 'Exp', 14, AXIS)
ov.plot([15], [13], marker='v', markersize=6, color='#888888', zorder=11)
box(25, 18, 102, 45, '#808080')
txt(63, 32, 'MZZ9', 24, '#ffffff', ha='center')
box(114, 19, 192, 47, '#808080')
txt(153, 33, 'alma ON', 21, '#00ff00', ha='center')
box(207, 23, 272, 41, '#808080')
txt(239, 32, 'ACC or', 17, '#ffffff', ha='center')
txt(402, 45, '2022.06.08 13:46:38', 32.5, '#00ced1')

# session and level labels
txt(1395, 390, 'London', 19, '#ffffff')
txt(908, 421, 'Frankfurt', 20, '#ffffff')
txt(3394, 1254, 'SELL/Pivot', 29.5, '#ffa500', weight='bold', family='Liberation Mono')
txt(3657, 1377, '0.00$', 42, '#ff0000')
txt(3139, 1055, '<0:22', 19, '#7fffd4')

# price tags
box(3774, 957, 3829, 976, '#daa520')
txt(3801, 966, '4141.4', 14, '#000000', ha='center')
box(3774, 1034, 3829, 1053, AXIS)
txt(3801, 1043, '4140.4', 14, '#ffffff', ha='center')

# pane scale and caption
txt(3777, 1469, '259.4994', 14, AXIS)
txt(3777, 1540, '0.00', 14, AXIS)
txt(3777, 1657, '-411.471', 14, AXIS)
txt(8, 1471, 'cci div: M1  haos (cci) visual  -44.7164 -44.7164 118.9627 200.0000 100.0000 0.0000 -100.0000 -200.0000', 14, AXIS)

# bottom left
box(6, 1403, 45, 1427, '#101010', '#707070', 1.5)
txt(25, 1415, 'ON', 18, '#808080', ha='center')
txt(12, 1438, '© 2021 TopLessons.In/Forex', 14.5, '#ffc000')
box(387, 1421, 487, 1451, '#8b0000')
txt(437, 1436, 'ADR D1', 19, '#c0c0c0', ha='center', weight='bold')

# top right stats
txt(3744, 15, 'TraderAgent', 15, AXIS, ha='right')
txt(3758, 16, '\u263a', 21, AXIS, ha='center', family='DejaVu Sans')
txt(3766, 39, '4140.4', 47, '#00ff7f', ha='right')
txt(3717, 60, 'High-Low', 20, '#d8d8d8', ha='right')
txt(3767, 58, '2310', 21.5, '#ffffff', ha='right')
txt(3731, 80, 'Pips-Open:', 20, '#d8d8d8', ha='right')
txt(3767, 78, '-1420', 21.5, '#ff0000', ha='right')
txt(3727, 100, 'Spread:', 20, '#d8d8d8', ha='right')
txt(3767, 98, '100.0', 21.5, '#ffffff', ha='right')
txt(3767, 124, 'SPX500M1', 27, '#ffff00', ha='right')
for x, s in ((3592,'M5'), (3609,'M15'), (3665,'H1'), (3700,'H4'), (3735,'D1')):
    txt(x, 148, s, 22, '#b0c4de')
txt(3466, 170, 'SPX500_m', 23, '#b0c4de')
arrow_path = Path([(-0.85,0.75),(-0.55,1.0),(0.45,0.0),(0.45,0.65),(0.85,0.65),(0.85,-0.85),(-0.7,-0.85),(-0.7,-0.45),(0.1,-0.45),(-0.85,0.75)], closed=True)
ov.plot([3609,3644,3680,3714,3750], [172]*5, linestyle='none', marker=arrow_path,
        markersize=20*PX, color='#ff4500', markeredgewidth=0, zorder=12)

# control panel
PANEL = '#1c2a3f'
box(3593, 193, 3752, 353, PANEL, '#3c4c66', 1.5)
box(3598, 199, 3748, 215, '#0e0e0e')
txt(3673, 207, 'Control Panel', 14, '#ffd700', ha='center')
txt(3610, 207, '\u25cf', 11, '#ffd700', ha='center', family='DejaVu Sans')
txt(3735, 207, '\u25b2', 8, '#ffd700', ha='center', family='DejaVu Sans')
buttons = [
    (3601, 223, '#1d3e6e', '\u25b2', 'Buy 0.04'),
    (3680, 223, '#5c1a1a', '\u25bc', 'Sell 0.04'),
    (3601, 263, '#1a5a5a', '\u2715', 'Partial'),
    (3680, 263, '#336018', '\u2715', 'Close all'),
    (3601, 303, '#66661e', '\u2714', 'Breakeven'),
    (3680, 303, '#5c1a5c', '\u21bb', 'Reverse'),
]
for x, y, c, g, s in buttons:
    box(x, y, x+69, y+35, c)
    txt(x+34, y+(10 if g in '\u25b2\u25bc' else 11), g, 10 if g in '\u25b2\u25bc' else 13, '#f0f0f0', ha='center', family='DejaVu Sans', z=13)
    txt(x+34, y+26, s, 14, '#f0f0f0', ha='center', z=13)

# dashboard
box(3593, 363, 3752, 493, PANEL, '#3c4c66', 1.5)
box(3598, 366, 3748, 385, '#0e0e0e')
txt(3673, 375, 'Dashboard', 14, '#ffd700', ha='center')
ov.add_patch(Circle((3610,375), 5.5, facecolor='none', edgecolor='#ffd700', linewidth=1.5*PX, zorder=12))
txt(3610, 375, 'i', 10, '#ffd700', ha='center', weight='bold')
txt(3735, 376, '\u25b2', 8, '#ffd700', ha='center', family='DejaVu Sans')
txt(3673, 397, 'SPX500 M1', 14, '#b0b0b0', ha='center', weight='bold')
txt(3633, 420, '414', 29, '#ffffff')
txt(3686, 413, '1.4', 13, '#ffffff')
txt(3686, 426, '0.4', 13, '#ffffff')
txt(3673, 447, 'Spread', 14, '#a0a0a0', ha='center')
txt(3674, 473, '1.0', 31, '#c0ff90', ha='center')
for k in range(22):
    y = 392 + k*4.05
    c = '#b02020' if 3 <= k < 17 else '#707070'
    box(3739, y, 3746, y+2.7, c)
ov.plot([3734], [469], marker='>', markersize=3.5, color='#ffd700', zorder=12)

fig.savefig('out.png', dpi=100, facecolor='black')
